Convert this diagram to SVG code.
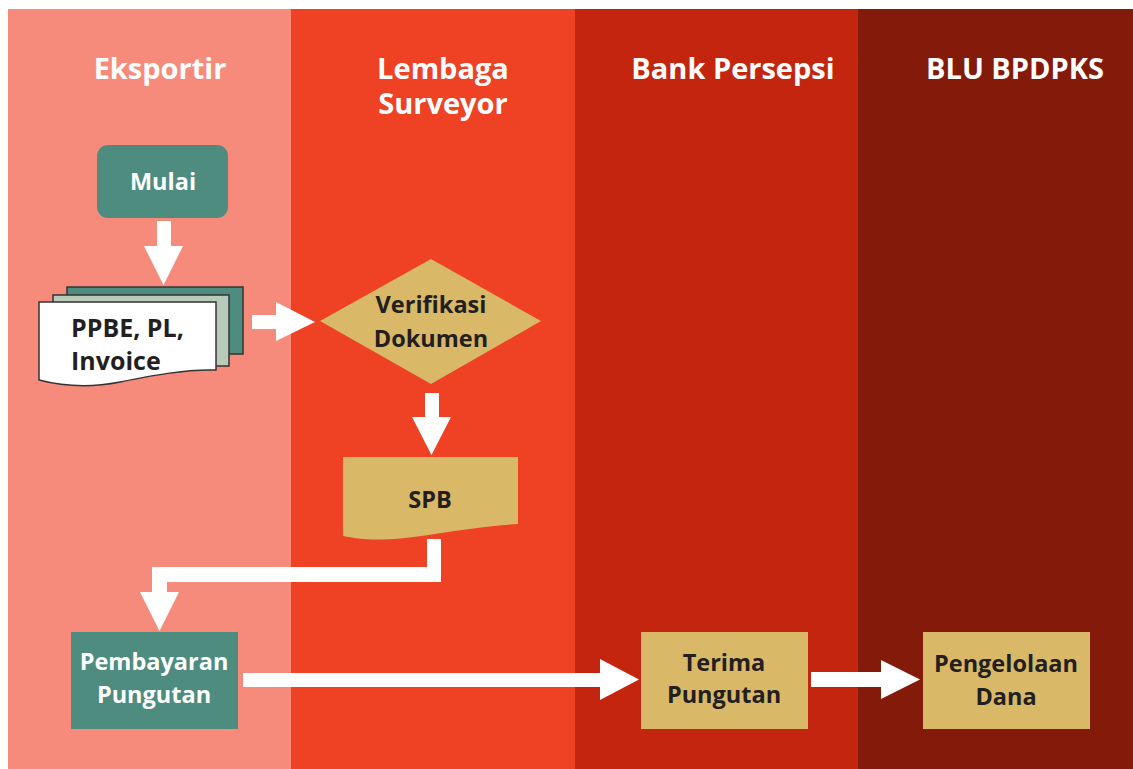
<svg xmlns="http://www.w3.org/2000/svg" width="1133" height="769" viewBox="0 0 1133 769">
<style>
.hdr{font-family:"Open Sans","Noto Sans",sans-serif;font-weight:700;font-size:29px;fill:#ffffff;text-anchor:middle}
.lbl{font-family:"Open Sans","Noto Sans",sans-serif;font-weight:700;font-size:23.5px;text-anchor:middle}
.w{fill:#ffffff}
.d{fill:#231f20}
.green{fill:#4d8c7e}
.tan{fill:#d9b867}
.arrow{fill:#ffffff}
.doc{stroke:#333333;stroke-width:1.5}
</style>
<rect x="0" y="0" width="1133" height="769" fill="#ffffff"/>
<g id="lanes">
<rect x="8" y="9" width="283" height="760" fill="#f78b7b"/>
<rect x="291" y="9" width="284" height="760" fill="#ef4124"/>
<rect x="575" y="9" width="283" height="760" fill="#c3250e"/>
<rect x="858" y="9" width="275" height="760" fill="#841a09"/>
<text class="hdr" x="160" y="79">Eksportir</text>
<text class="hdr" x="443" y="79"><tspan x="443" y="79">Lembaga</tspan><tspan x="443" y="114">Surveyor</tspan></text>
<text class="hdr" x="733" y="79">Bank Persepsi</text>
<text class="hdr" x="1015" y="79">BLU BPDPKS</text>
</g>
<g id="connectors">
<polygon class="arrow" points="157,221 171,221 171,246 183,246 163.5,285 144,246 157,246"/>
<polygon class="arrow" points="252,315 276,315 276,302 315,322 276,341 276,329 252,329"/>
<polygon class="arrow" points="425,393 439,393 439,417 451,417 431.5,455 412,417 425,417"/>
<polygon class="arrow" points="427,539 441,539 441,582 167,582 167,592 179,592 159.5,631 140,592 152,592 152,567 427,567"/>
<polygon class="arrow" points="243,673 600,673 600,659 639,679.5 600,700 600,687 243,687"/>
<polygon class="arrow" points="811,672 881,672 881,660 920,679.5 881,699 881,687 811,687"/>
</g>
<g id="mulai">
<rect class="green" x="97" y="145" width="131" height="73" rx="11"/>
<text class="lbl w" x="163" y="190">Mulai</text>
</g>
<g id="dokumen">
<rect x="67" y="287" width="176" height="67" fill="#4d8c7e" class="doc"/>
<rect x="53" y="295" width="176" height="71" fill="#b8cbbb" class="doc"/>
<path class="doc" fill="#ffffff" d="M39,302 H216 V370 C185,369 150,376 120,382 C90,388 62,386 39,380 Z"/>
<text class="lbl d" x="71" y="337" style="text-anchor:start;font-size:25px">PPBE, PL,</text>
<text class="lbl d" x="71" y="370" style="text-anchor:start;font-size:25px">Invoice</text>
</g>
<g id="verifikasi">
<polygon class="tan" points="320,321 431,259 541,321 431,384"/>
<text class="lbl d" x="431" y="313">Verifikasi</text>
<text class="lbl d" x="431" y="347">Dokumen</text>
</g>
<g id="spb">
<path class="tan" d="M343,457 H518 V524 C480,526 440,534 405,538 C375,541 358,539 343,536 Z"/>
<text class="lbl d" x="430" y="508">SPB</text>
</g>
<g id="pembayaran">
<rect class="green" x="71" y="632" width="167" height="97"/>
<text class="lbl w" x="154" y="670">Pembayaran</text>
<text class="lbl w" x="154" y="703">Pungutan</text>
</g>
<g id="terima">
<rect class="tan" x="641" y="632" width="167" height="97"/>
<text class="lbl d" x="724" y="671">Terima</text>
<text class="lbl d" x="724" y="703">Pungutan</text>
</g>
<g id="pengelolaan">
<rect class="tan" x="923" y="632" width="167" height="97"/>
<text class="lbl d" x="1006" y="672">Pengelolaan</text>
<text class="lbl d" x="1006" y="705">Dana</text>
</g>
</svg>
